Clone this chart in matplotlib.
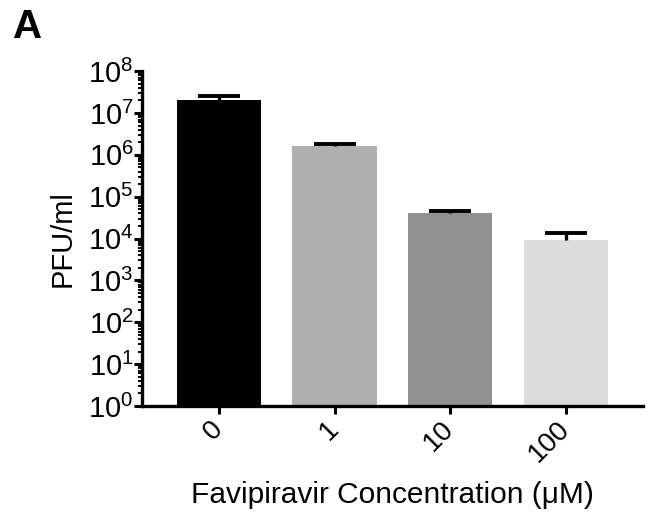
import matplotlib
matplotlib.use("Agg")
import matplotlib.pyplot as plt
from matplotlib.ticker import FixedLocator, FuncFormatter, LogLocator
import numpy as np

plt.rcParams['font.family'] = ['Liberation Sans', 'DejaVu Sans']
plt.rcParams['mathtext.fontset'] = 'custom'
plt.rcParams['mathtext.rm'] = 'Liberation Sans'
plt.rcParams['mathtext.it'] = 'Liberation Sans:italic'

categories = ['0', '1', '10', '100']
means = [2.0e7, 1.6e6, 4.0e4, 9.2e3]
upper = [2.6e7, 1.86e6, 4.6e4, 1.37e4]
bar_colors = ['#000000', '#b0b0b0', '#919191', '#dcdcdc']
decades = [0, 1, 2, 3, 4, 5, 6, 7, 8]

fig = plt.figure(figsize=(6.54, 5.12), dpi=100)
ax = fig.add_axes([0.217, 0.207, 0.766, 0.654])
ax.set_yscale('log')
x = np.arange(len(categories))
ax.bar(x, means, width=0.73, color=bar_colors, zorder=2)
# upper-only error bars: stem from mean to upper, cap at upper
ax.vlines(x, means, upper, colors='black', linewidth=2.4, zorder=3)
ax.plot(x, upper, linestyle='none', marker='_', markersize=30,
        markeredgewidth=2.8, color='black', zorder=3)

ax.set_ylim(1, 1e8)
ax.set_xlim(-0.665, 3.665)
ax.yaxis.set_major_locator(FixedLocator([10.0 ** d for d in decades]))
ax.yaxis.set_major_formatter(FuncFormatter(lambda v, p: r'$\mathregular{10^{%d}}$' % round(np.log10(v))))
ax.yaxis.set_minor_locator(LogLocator(base=10, subs=np.arange(2, 10), numticks=20))
ax.yaxis.set_minor_formatter(FuncFormatter(lambda v, p: ''))

ax.set_xticks(x)
ax.set_xticklabels(categories, rotation=45, ha='right', va='center', rotation_mode='anchor')

for s in ['top', 'right']:
    ax.spines[s].set_visible(False)
for s in ['left', 'bottom']:
    ax.spines[s].set_linewidth(2.4)

ax.tick_params(axis='y', which='major', length=5.5, width=2.2, labelsize=21, pad=0.5)
ax.tick_params(axis='y', which='minor', length=3.0, width=1.4)
ax.tick_params(axis='x', which='major', length=6, width=2.2, labelsize=20, pad=8)

ax.set_ylabel('PFU/ml', fontsize=21, labelpad=8)
ax.set_xlabel('Favipiravir Concentration (\u03bcM)', fontsize=21.5, labelpad=10)

fig.text(0.02, 0.925, 'A', fontsize=29, fontweight='bold', ha='left', va='baseline')

fig.savefig('out.png', dpi=100)
